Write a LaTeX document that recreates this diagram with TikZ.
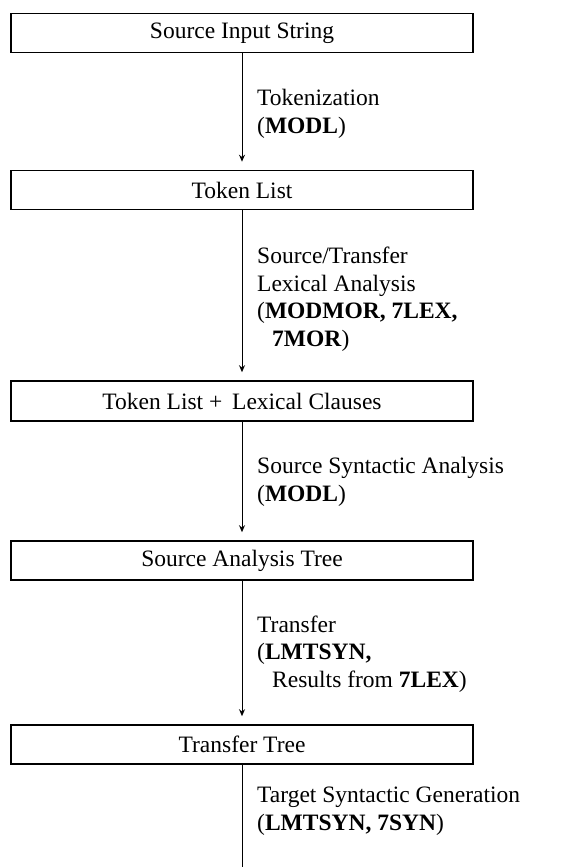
\documentclass[tikz,border=0pt]{standalone}
\usepackage{fontspec}
\setmainfont{Liberation Serif}
\usetikzlibrary{arrows.meta}
\begin{document}
\begin{tikzpicture}[x=1pt,y=-1pt,
  stage/.style={draw, line width=1.6pt, minimum width=462pt, minimum height=39pt, inner sep=0pt, font=\fontsize{23.5}{27}\selectfont},
  lbl/.style={anchor=west, align=left, inner sep=0pt, font=\fontsize{23.5}{27.5}\selectfont},
  flow/.style={line width=1pt, -{Stealth[length=7pt,width=6pt]}, shorten >=8pt},
  tail/.style={line width=1pt}
]
\useasboundingbox (0,0) rectangle (571,867);
\node[stage] (s1) at (242,33) {Source Input String};
\node[stage] (s2) at (242,190) {Token List};
\node[stage, minimum height=40pt] (s3) at (242,401) {Token List + \,Lexical Clauses};
\node[stage] (s4) at (242,560.5) {Source Analysis Tree};
\node[stage] (s5) at (242,744.5) {Transfer Tree};
\coordinate (end) at (242,867);

\draw[flow] (s1) -- (s2);
\draw[flow] (s2) -- (s3);
\draw[flow] (s3) -- (s4);
\draw[flow] (s4) -- (s5);
\draw[tail] (s5) -- (end);

\node[lbl] (l1) at (257,114) {Tokenization\\(\textbf{MODL})};
\node[lbl] (l2) at (257,299) {Source/Transfer\\Lexical Analysis\\(\textbf{MODMOR, 7LEX,}\\\hspace*{15pt}\textbf{7MOR})};
\node[lbl] (l3) at (257,482) {Source Syntactic Analysis\\(\textbf{MODL})};
\node[lbl] (l4) at (257,654) {Transfer\\(\textbf{LMTSYN,}\\\hspace*{15pt}Results from \textbf{7LEX})};
\node[lbl] (l5) at (257,811) {Target Syntactic Generation\\(\textbf{LMTSYN, 7SYN})};
\end{tikzpicture}
\end{document}
